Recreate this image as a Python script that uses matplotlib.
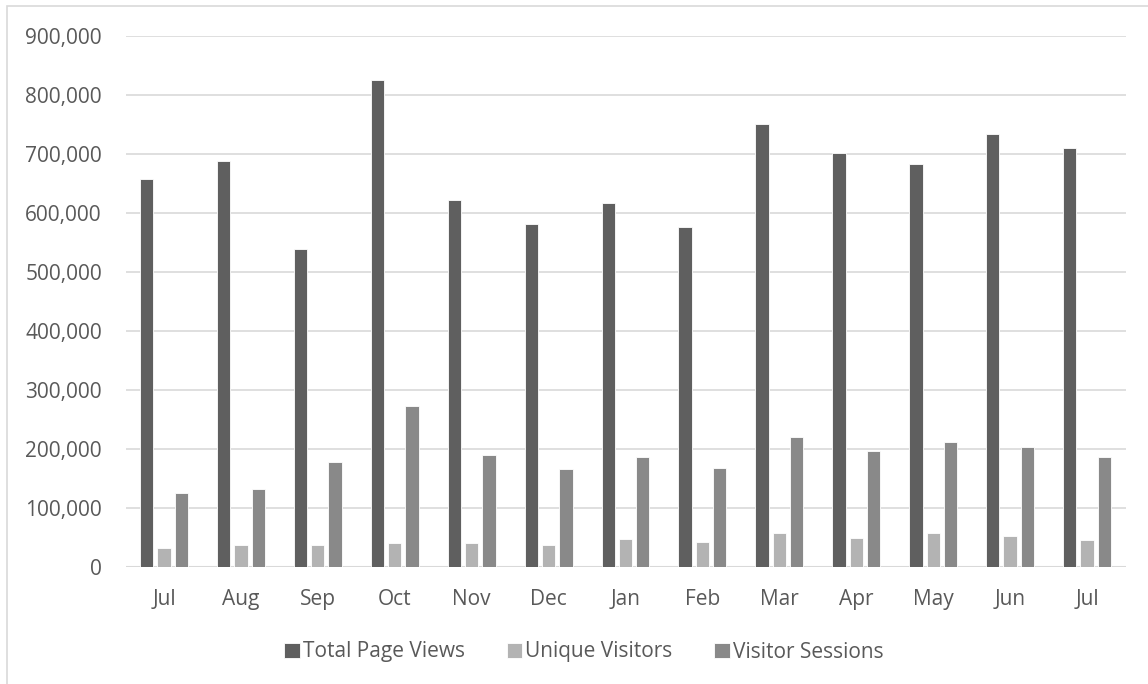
import numpy as np
import matplotlib
matplotlib.use("Agg")
import matplotlib.pyplot as plt
from matplotlib.patches import Rectangle
from matplotlib.ticker import FuncFormatter, MultipleLocator

plt.rcParams['font.family'] = ['Open Sans', 'DejaVu Sans']

# monthly site traffic
months = ['Jul', 'Aug', 'Sep', 'Oct', 'Nov', 'Dec', 'Jan', 'Feb', 'Mar', 'Apr', 'May', 'Jun', 'Jul']
page_views = [657000, 688000, 538000, 825000, 621000, 581000, 617000, 575000, 750000, 702000, 682000, 733000, 710000]
unique_visitors = [32000, 37500, 37000, 40000, 41000, 38000, 48000, 42000, 57000, 49000, 57000, 52000, 46000]
visitor_sessions = [125000, 132000, 177000, 272000, 190000, 166000, 186000, 168000, 221000, 196000, 211000, 203000, 186000]

series_names = ['Total Page Views', 'Unique Visitors', 'Visitor Sessions']
colors = ['#5f5f5f', '#b3b3b3', '#898989']
text_col = '#595959'
grid_col = '#d9d9d9'

fig = plt.figure(figsize=(11.48, 6.84), dpi=100)
fig.patches.append(Rectangle((7 / 1148, -0.1), 1.2, (684 - 6) / 684 + 0.1,
                             transform=fig.transFigure, fill=False,
                             edgecolor=grid_col, linewidth=1.2))

ax = fig.add_axes([125.5 / 1148, (684 - 567) / 684, 1000 / 1148, (567 - 35.6) / 684])

x = np.arange(len(months))
w = 0.173
off = 0.225
for i, vals in enumerate([page_views, unique_visitors, visitor_sessions]):
    ax.bar(x + (i - 1) * off, vals, width=w, color=colors[i], edgecolor='white',
           linewidth=0.6, label=series_names[i], zorder=3)

ax.set_xlim(-0.5, len(months) - 0.5)
ax.set_ylim(0, 900000)
ax.yaxis.set_major_locator(MultipleLocator(100000))
ax.yaxis.set_major_formatter(FuncFormatter(lambda v, p: f'{int(v):,}'))
ax.grid(axis='y', color=grid_col, linewidth=1.2, zorder=0)
for s in ax.spines.values():
    s.set_visible(False)
ax.axhline(0, color=grid_col, linewidth=1.5, zorder=2)

ax.set_xticks(x)
ax.set_xticklabels(months)
ax.tick_params(axis='both', length=0, labelsize=15, labelcolor=text_col)
ax.tick_params(axis='x', pad=16)
ax.tick_params(axis='y', pad=17)

leg = fig.legend(loc='center', bbox_to_anchor=(584 / 1148, (684 - 652) / 684), ncol=3,
                 frameon=False, fontsize=15, handlelength=0.75, handleheight=0.75,
                 handletextpad=0.15, columnspacing=2.0)
for t in leg.get_texts():
    t.set_color(text_col)

fig.savefig('out.png', dpi=100)
